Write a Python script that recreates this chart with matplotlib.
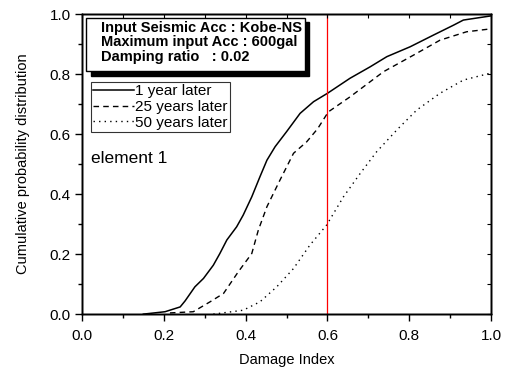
import numpy as np
import matplotlib
matplotlib.use("Agg")
from matplotlib import pyplot as plt
from matplotlib.patches import Rectangle

plt.rcParams['font.family'] = ['Liberation Sans', 'DejaVu Sans']

# curve data
x_1yr = [0.15, 0.203, 0.24, 0.252, 0.276, 0.297, 0.321, 0.337, 0.354, 0.378, 0.394,
         0.415, 0.435, 0.452, 0.472, 0.50, 0.533, 0.566, 0.60, 0.655, 0.704, 0.745,
         0.802, 0.859, 0.908, 0.932, 1.0]
y_1yr = [0.0, 0.008, 0.024, 0.044, 0.091, 0.119, 0.163, 0.202, 0.247, 0.291, 0.33,
         0.391, 0.458, 0.513, 0.558, 0.608, 0.669, 0.708, 0.736, 0.786, 0.824, 0.858,
         0.891, 0.93, 0.963, 0.98, 0.994]

x_25yr = [0.215, 0.272, 0.313, 0.346, 0.382, 0.415, 0.431, 0.452, 0.484, 0.517, 0.549,
          0.576, 0.602, 0.655, 0.737, 0.81, 0.875, 0.94, 0.995]
y_25yr = [0.004, 0.008, 0.041, 0.069, 0.141, 0.202, 0.28, 0.358, 0.447, 0.536, 0.574,
          0.618, 0.674, 0.724, 0.808, 0.863, 0.913, 0.941, 0.95]

x_50yr = [0.321, 0.394, 0.435, 0.476, 0.517, 0.557, 0.598, 0.639, 0.68, 0.72, 0.771,
          0.818, 0.875, 0.932, 0.995]
y_50yr = [0.0, 0.013, 0.041, 0.091, 0.152, 0.23, 0.297, 0.391, 0.469, 0.541, 0.616,
          0.68, 0.736, 0.78, 0.802]

limit_di = 0.6
info_lines = ["Input Seismic Acc : Kobe-NS",
              "Maximum input Acc : 600gal",
              "Damping ratio   : 0.02"]

fig = plt.figure(figsize=(5.09, 3.70), dpi=100)
ax = fig.add_axes([0.161, 0.151, 0.804, 0.811])

ax.plot(x_1yr, y_1yr, color='black', lw=1.1, ls='-', label='1 year later')
ax.plot(x_25yr, y_25yr, color='black', lw=1.0, ls=(0, (4, 3)), label='25 years later')
ax.plot(x_50yr, y_50yr, color='black', lw=1.0, ls=(0, (1, 3)), label='50 years later')
ax.axvline(limit_di, color='red', lw=0.9)

ax.set_xlim(0, 1)
ax.set_ylim(0, 1)
ax.set_xticks(np.arange(0, 1.01, 0.2))
ax.set_yticks(np.arange(0, 1.01, 0.2))
ax.set_xticks(np.arange(0.1, 1.0, 0.2), minor=True)
ax.set_yticks(np.arange(0.1, 1.0, 0.2), minor=True)
ax.xaxis.set_major_formatter(plt.FormatStrFormatter('%.1f'))
ax.yaxis.set_major_formatter(plt.FormatStrFormatter('%.1f'))
ax.tick_params(which='major', direction='out', length=5, width=1, labelsize=11,
               top=False, right=False)
ax.tick_params(axis='x', which='major', pad=6)
ax.tick_params(axis='y', which='major', pad=3)
ax.tick_params(which='minor', direction='out', length=3, width=1)

# inward ticks on top and right
ax2 = ax.twinx()
ax2.set_ylim(0, 1)
ax2.set_yticks(np.arange(0, 1.01, 0.1))
ax2.tick_params(direction='in', length=3, labelright=False)
ax3 = ax.twiny()
ax3.set_xlim(0, 1)
ax3.set_xticks(np.arange(0, 1.01, 0.1))
ax3.tick_params(direction='in', length=3, labeltop=False)

for a in (ax, ax2, ax3):
    for s in a.spines.values():
        s.set_linewidth(1.0)

ax.set_xlabel('Damage Index', fontsize=10.5, labelpad=7)
ax.set_ylabel('Cumulative probability distribution', fontsize=10.5, labelpad=14)

# info box with shadow
ax.add_patch(Rectangle((0.021, 0.795), 0.534, 0.177, transform=ax.transAxes,
                       facecolor='black', edgecolor='black', zorder=4))
ax.add_patch(Rectangle((0.011, 0.81), 0.534, 0.177, transform=ax.transAxes,
                       facecolor='white', edgecolor='black', lw=1, zorder=5))
ax.text(0.047, 0.978, "\n".join(info_lines), transform=ax.transAxes,
        fontsize=10.5, fontweight='bold', va='top', ha='left', linespacing=1.05,
        zorder=6)

leg = ax.legend(loc='upper left', bbox_to_anchor=(0.022, 0.774), fontsize=11,
                frameon=True, fancybox=False, handlelength=2.7, handletextpad=0.05,
                borderpad=0.15, labelspacing=0.12, borderaxespad=0)
leg.get_frame().set_edgecolor('black')
leg.get_frame().set_linewidth(0.8)
leg.set_zorder(6)

ax.text(0.022, 0.517, 'element 1', transform=ax.transAxes, fontsize=12.5,
        va='center', ha='left')

fig.savefig('out.png', dpi=100)
